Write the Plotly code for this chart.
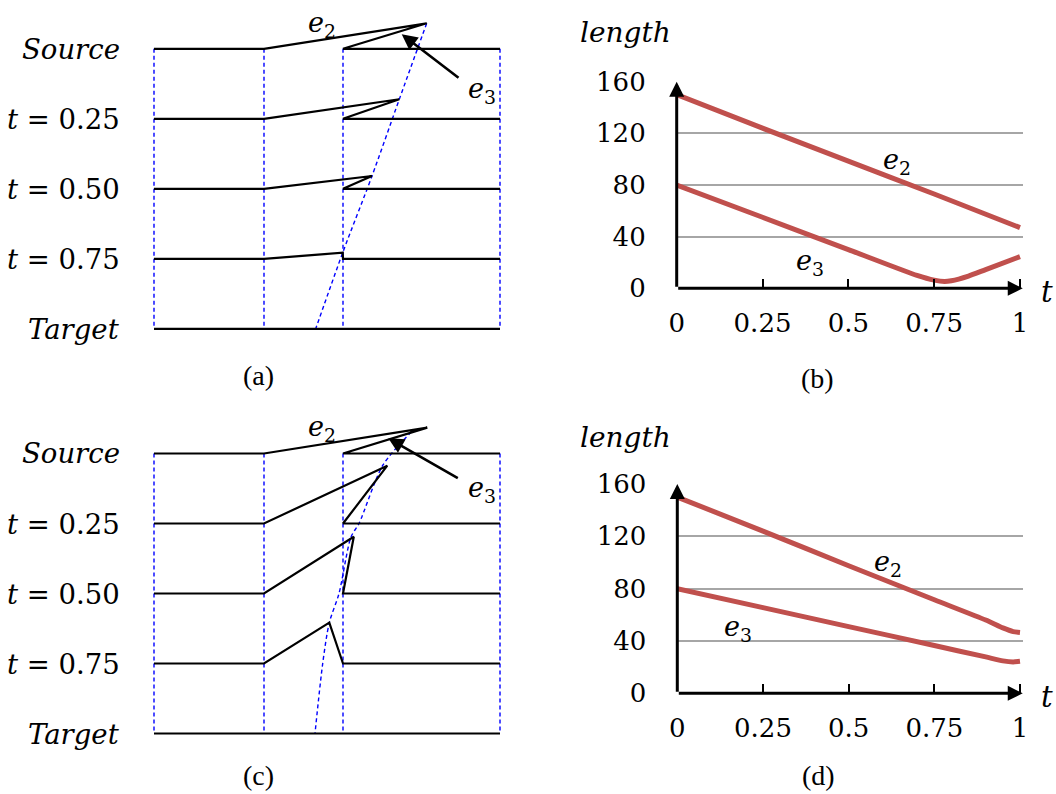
import plotly.graph_objects as go

W, H = 1056, 794

# ---------------- Panels (a) and (c): morphing diagrams ----------------
# x = offset from left guide line, y = row index (0 = Source ... 4 = Target)
ROW_LABELS = ['<i>Source</i>', '<i>t</i> = 0.25', '<i>t</i> = 0.50', '<i>t</i> = 0.75', '<i>Target</i>']
GUIDE_X = [0, 110, 189, 346]          # dashed blue guides
E2_START_X = 110
E3_END_X = 189
RIGHT_X = 346

# (a) apex of e2/e3 per row (x, height above row in row units)
A_APEX_X = [272.7, 245.3, 218.0, 188.7, 161.7]
A_APEX_DY = [0.364, 0.279, 0.183, 0.087, 0.0]
# (c)
C_APEX_X = [273.3, 233.3, 199.8, 175.3, 161.0]
C_APEX_DY = [0.369, 0.826, 0.811, 0.583, 0.0]
C_TRACK_X = [257.5, 229.0, 205.0, 197.0, 185.0, 175.3, 168.7, 161.0]
C_TRACK_Y = [-0.311, 0.164, 1.0, 1.193, 2.0, 2.417, 3.0, 4.0]

# ---------------- Panels (b) and (d): length curves ----------------
T_TICKS = [0, 0.25, 0.5, 0.75, 1]
T_TICK_TEXT = ['0', '0.25', '0.5', '0.75', '1']
LEN_TICKS = [0, 40, 80, 120, 160]

B_T_E2 = [0, 0.25, 0.5, 0.75, 1]
B_E2 = [150, 124, 98.5, 73, 47]
B_T_E3 = [0, 0.25, 0.5, 0.7, 0.75, 0.78, 0.8, 0.85, 0.9, 1]
B_E3 = [80, 55, 30, 10, 6.3, 5.2, 5.8, 9.5, 14.5, 24.5]

D_T = [0, 0.25, 0.5, 0.75, 0.9, 0.95, 0.98, 1]
D_E2 = [150, 124, 97.5, 71.5, 56, 50, 47.2, 46.5]
D_E3 = [80, 65.5, 51, 36.5, 27.8, 24.8, 24, 24.5]

RED = '#C0504D'
BLUE = '#0000FF'
SERIF = 'DejaVu Serif'
CAP_FONT = 'Liberation Serif'


def pxx(p):
    return p / W


def pxy(p):
    return 1 - p / H


fig = go.Figure()

ROW_STEP = 70.0


def diagram(xr, yr, apex_x, apex_dy, track_x, track_y):
    gx, gy = [], []
    for g in GUIDE_X:
        gx += [g, g, None]
        gy += [0, 4, None]
    fig.add_trace(go.Scatter(x=gx, y=gy, mode='lines', xaxis=xr, yaxis=yr,
                             line=dict(color=BLUE, width=1.4, dash='4px,3px'),
                             hoverinfo='skip', showlegend=False))
    fig.add_trace(go.Scatter(x=track_x, y=track_y, mode='lines', xaxis=xr, yaxis=yr,
                             line=dict(color=BLUE, width=1.4, dash='4px,3px', shape='spline',
                                       smoothing=0.8),
                             hoverinfo='skip', showlegend=False))
    px_, py_ = [], []
    for i in range(len(ROW_LABELS)):
        px_ += [GUIDE_X[0], E2_START_X, apex_x[i], E3_END_X, RIGHT_X, None]
        py_ += [i, i, i - apex_dy[i], i, i, None]
    fig.add_trace(go.Scatter(x=px_, y=py_, mode='lines', xaxis=xr, yaxis=yr,
                             line=dict(color='black', width=2.2),
                             hoverinfo='skip', showlegend=False))


diagram('x', 'y', A_APEX_X, A_APEX_DY, A_APEX_X,
        [i - d for i, d in enumerate(A_APEX_DY)])
diagram('x3', 'y3', C_APEX_X, C_APEX_DY, C_TRACK_X, C_TRACK_Y)

for xr, yr, t2, v2, t3, v3 in [('x2', 'y2', B_T_E2, B_E2, B_T_E3, B_E3),
                               ('x4', 'y4', D_T, D_E2, D_T, D_E3)]:
    fig.add_trace(go.Scatter(x=t2, y=v2, mode='lines', xaxis=xr, yaxis=yr,
                             line=dict(color=RED, width=5, shape='spline', smoothing=0.6),
                             hoverinfo='skip', showlegend=False))
    fig.add_trace(go.Scatter(x=t3, y=v3, mode='lines', xaxis=xr, yaxis=yr,
                             line=dict(color=RED, width=5, shape='spline', smoothing=0.6),
                             hoverinfo='skip', showlegend=False))

hidden = dict(visible=False, showgrid=False, zeroline=False, automargin=False)

layout = dict(
    template='none',
    width=W, height=H, margin=dict(l=0, r=0, t=0, b=0, pad=0, autoexpand=False),
    paper_bgcolor='white', plot_bgcolor='rgba(0,0,0,0)',
    showlegend=False,
)

XMAX = 1.008
A_ROW0, C_ROW0 = 48.8, 453.5
layout['xaxis'] = dict(hidden, domain=[0, pxx(520)], range=[-154, 366], anchor='y')
layout['yaxis'] = dict(hidden, domain=[pxy(350), pxy(5)], anchor='x',
                       range=[(350 - A_ROW0) / ROW_STEP, (5 - A_ROW0) / ROW_STEP])
layout['xaxis3'] = dict(hidden, domain=[0, pxx(520)], range=[-154, 366], anchor='y3')
layout['yaxis3'] = dict(hidden, domain=[pxy(755), pxy(410)], anchor='x3',
                        range=[(755 - C_ROW0) / ROW_STEP, (410 - C_ROW0) / ROW_STEP])


def len_axes(x0, unit, y0, y160, xa_id, ya_id):
    xa = dict(domain=[pxx(x0), pxx(x0 + unit * XMAX)], range=[0, XMAX], anchor=ya_id,
              tickvals=T_TICKS, ticktext=T_TICK_TEXT, ticks='inside', ticklen=9,
              tickwidth=2, tickcolor='black', showgrid=False, zeroline=False,
              showline=False, ticklabelstandoff=17, automargin=False,
              tickfont=dict(family=SERIF, size=26, color='black'))
    ya = dict(domain=[pxy(y0), pxy(y160)], range=[0, 160], tickvals=LEN_TICKS, anchor=xa_id,
              ticks='', showgrid=True, gridcolor='#A6A6A6', gridwidth=2,
              zeroline=False, showline=False, ticklabelstandoff=30, automargin=False,
              tickfont=dict(family=SERIF, size=26, color='black'))
    return xa, ya


layout['xaxis2'], layout['yaxis2'] = len_axes(676.7, 343.3, 288.3, 81.7, 'x2', 'y2')
layout['xaxis4'], layout['yaxis4'] = len_axes(677.3, 342.7, 693.3, 484, 'x4', 'y4')

fig.update_layout(**layout)

ann = []
for xr, yr in [('x', 'y'), ('x3', 'y3')]:
    for i, lab in enumerate(ROW_LABELS):
        ann.append(dict(x=-32, y=i, xref=xr, yref=yr, text=lab, showarrow=False,
                        xanchor='right', yanchor='middle',
                        font=dict(family=SERIF, size=27.5, color='black')))

E_FONT = dict(family=SERIF, size=27, color='black')
for xr, yr, e2y, e3y, tip, tail in [('x', 'y', -0.34, 0.59, (247.7, -0.207), (306, 0.431)),
                                    ('x3', 'y3', -0.36, 0.52, (234.3, -0.217), (305.3, 0.364))]:
    ann.append(dict(x=167.7, y=e2y, xref=xr, yref=yr, text='<i>e</i><sub>2</sub>',
                    showarrow=False, font=E_FONT))
    ann.append(dict(x=327.7, y=e3y, xref=xr, yref=yr, text='<i>e</i><sub>3</sub>',
                    showarrow=False, font=E_FONT))
    ann.append(dict(x=tip[0], y=tip[1], xref=xr, yref=yr, ax=tail[0], ay=tail[1],
                    axref=xr, ayref=yr, text='', showarrow=True, arrowhead=2,
                    arrowwidth=2.6, arrowsize=1.2, arrowcolor='black'))

for xr, yr, lab_y, e2, e3 in [('x2', 'y2', 33, (0.642, 98), (0.388, 19.6)),
                              ('x4', 'y4', 438, (0.615, 99.6), (0.177, 49.9))]:
    ann.append(dict(x=XMAX, y=0, ax=0, ay=0, xref=xr, yref=yr, axref=xr, ayref=yr,
                    text='', showarrow=True, arrowhead=2, arrowwidth=3, arrowsize=1,
                    arrowcolor='black'))
    ann.append(dict(x=0, y=160, ax=0, ay=0, xref=xr, yref=yr, axref=xr, ayref=yr,
                    text='', showarrow=True, arrowhead=2, arrowwidth=3, arrowsize=1,
                    arrowcolor='black'))
    ann.append(dict(x=e2[0], y=e2[1], xref=xr, yref=yr, text='<i>e</i><sub>2</sub>',
                    showarrow=False, font=E_FONT))
    ann.append(dict(x=e3[0], y=e3[1], xref=xr, yref=yr, text='<i>e</i><sub>3</sub>',
                    showarrow=False, font=E_FONT))
    ann.append(dict(x=pxx(625), y=pxy(lab_y), xref='paper', yref='paper',
                    xanchor='center', yanchor='middle',
                    text='<i>length</i>', showarrow=False,
                    font=dict(family=SERIF, size=28, color='black')))
    ann.append(dict(x=pxx(1047), y=pxy(lab_y + 259), xref='paper', yref='paper',
                    xanchor='center', yanchor='middle',
                    text='<i>t</i>', showarrow=False,
                    font=dict(family=SERIF, size=29, color='black')))

for txt, cx, cy in [('(a)', 258, 376), ('(b)', 817, 378), ('(c)', 258, 775), ('(d)', 818, 775)]:
    ann.append(dict(x=pxx(cx), y=pxy(cy), xref='paper', yref='paper', text=txt,
                    xanchor='center', yanchor='middle',
                    showarrow=False, font=dict(family=CAP_FONT, size=28, color='black')))

fig.update_layout(annotations=ann)
fig.write_html('out.html', config={'displayModeBar': False},
               post_script="document.body.style.margin='0';")
